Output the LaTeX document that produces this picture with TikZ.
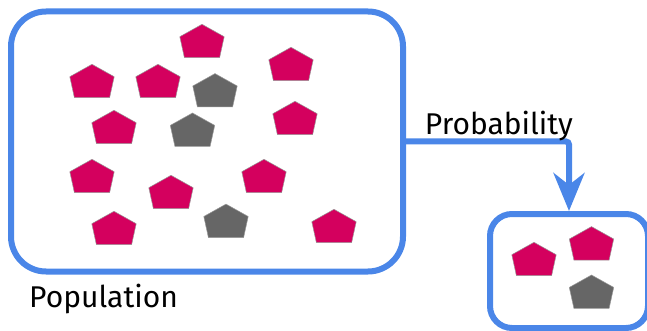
\documentclass[tikz,border=0pt]{standalone}
\usepackage{fontspec}
\setmainfont{Fira Sans}
\usetikzlibrary{arrows.meta,positioning}
\definecolor{popblue}{HTML}{4A86E8}
\definecolor{popred}{HTML}{D4005E}
\definecolor{popgray}{HTML}{666666}
\begin{document}
\begin{tikzpicture}[x=1pt, y=-1pt,
		every node/.style={font=\fontsize{30}{34}\selectfont, inner sep=0pt},
		frame/.style={draw=popblue, line width=6pt, rounded corners=#1},
		link/.style={draw=popblue, line width=6pt, rounded corners=3pt, -{Stealth[length=38pt, width=31pt, inset=12pt]}},
		penta/.pic={\path[pic actions] (0,-16.7) -- (22.2,-4.3) -- (17.6,16.7) -- (-17.6,16.7) -- (-22.2,-4.3) -- cycle;}]
	\useasboundingbox (0,0) rectangle (647,331);
	\node[frame=35pt, minimum width=392pt, minimum height=260pt] (pop) at (207,141.5) {};
	\node[frame=22pt, minimum width=158pt, minimum height=114pt] (sample) at (569,271) {};
	\node[below right=9pt and 21pt of pop.south west, anchor=north west] (poplabel) {Population};
	
	\coordinate (bend) at (sample.north |- pop.east);
	\draw[link] (pop.east) -| (sample.north);
	\node[above left=0pt and -4pt of bend] (problabel) {Probability};
	
	% population and sample
	\foreach \px/\py/\pc in {202/41/popred, 92/81/popred, 158/81/popred, 215/90.3/popgray,
		291/64/popred, 114/127/popred, 192.5/129.7/popgray, 295/118/popred,
		92/176/popred, 171/192/popred, 264/176/popred, 114/228/popred,
		226/220.8/popgray, 334/226/popred,
		534/259/popred, 591.5/243.3/popred, 591.5/291.7/popgray}
		\pic[fill=\pc, draw=black!40, line width=0.5pt] at (\px,\py) {penta};
\end{tikzpicture}
\end{document}
